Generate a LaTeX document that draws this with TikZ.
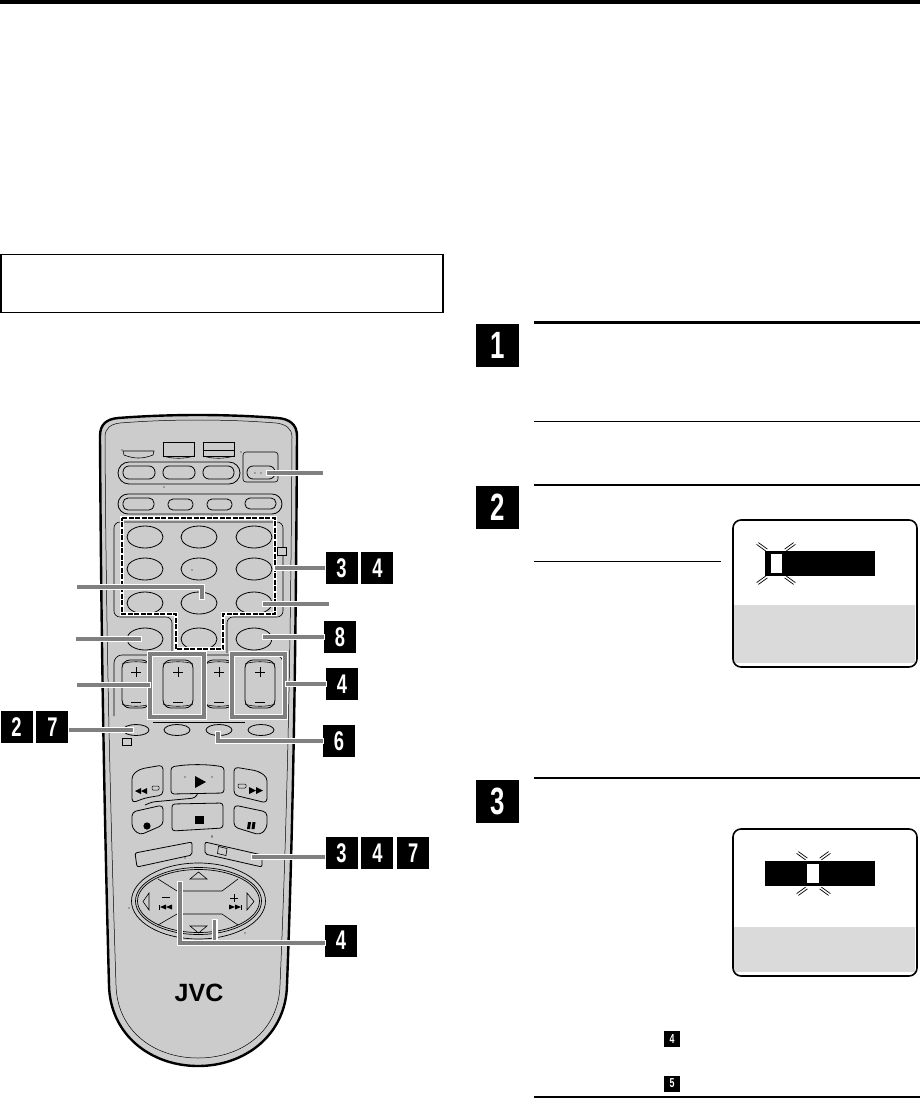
\documentclass[tikz,border=0pt]{standalone}
\usepackage{fontspec}
\setmainfont{Liberation Sans}
\usepackage{tikz}
\usetikzlibrary{calc, positioning, shapes.geometric}
\definecolor{bodygray}{HTML}{CCCCCC}
\definecolor{calloutgray}{HTML}{808080}
\definecolor{screengray}{HTML}{DADADA}
\newcommand{\numglyph}[1]{\scalebox{0.68}[1]{#1}}
\tikzset{
  badge/.style={fill=black, text=white, minimum size=32pt, inner sep=0pt, font=\fontsize{27}{27}\selectfont\bfseries},
  bigbadge/.style={fill=black, text=white, minimum size=42.5pt, inner sep=0pt, font=\fontsize{38}{38}\selectfont\bfseries},
  tinybadge/.style={fill=black, text=white, minimum size=16pt, inner sep=0pt, font=\fontsize{13}{13}\selectfont\bfseries},
  btn/.style={draw=black, line width=0.8pt},
  key/.style={ellipse, draw=black, line width=0.8pt, minimum width=36pt, minimum height=22pt, inner sep=0pt},
  smallkey/.style={ellipse, draw=black, line width=0.8pt, minimum width=26pt, minimum height=11pt, inner sep=0pt},
  thin line/.style={draw=black, line width=0.6pt},
  padring/.style={ellipse, draw=black, line width=0.7pt, inner sep=0pt},
  hrule/.style={draw=black, line width=2.4pt},
  screen/.style={draw=black, line width=1.6pt, rounded corners=8pt},
}
% one grey leader with a white edge
\newcommand{\leader}[1]{
  \draw[white, line width=6pt, shorten <=-1pt, shorten >=-1pt] #1;
  \draw[calloutgray, line width=3.6pt] #1;
}
% four flashing marks round a block
\newcommand{\sparkle}[4]{
  \foreach \sx/\sy in {-1/-1,1/-1,-1/1,1/1} {
    \draw[line width=0.7pt] ({#1+\sx*#3-0.9},{#2+\sy*#4+0.9*\sx*\sy}) -- ++({\sx*9},{\sy*6.5});
    \draw[line width=0.7pt] ({#1+\sx*#3+0.9},{#2+\sy*#4-0.9*\sx*\sy}) -- ++({\sx*9},{\sy*6.5});
  }
}
\begin{document}
\begin{tikzpicture}[x=1pt, y=-1pt]
\useasboundingbox (0,0) rectangle (920,1098);
\fill[black] (0,0) rectangle (920,4);

% note box
\draw[line width=1.2pt] (1,254.5) rectangle (443,312.5);

% remote body
\draw[fill=bodygray, line width=2.4pt] (100,436) .. controls (100,424) and (107,419) .. (118,418)
  .. controls (170,414) and (226,414) .. (278,418) .. controls (289,419) and (297,424) .. (297,436)
  .. controls (296,620) and (294,800) .. (287,985) .. controls (286,1035) and (245,1066) .. (198,1066)
  .. controls (151,1066) and (110,1035) .. (109,985) .. controls (104,800) and (101,620) .. (100,436) -- cycle;
\draw[line width=0.5pt] (105,437) .. controls (105,428) and (111,424) .. (120,423)
  .. controls (170,419) and (226,419) .. (276,423) .. controls (285,424) and (292,428) .. (292,437)
  .. controls (291,620) and (288,800) .. (280,985) .. controls (279,1030) and (243,1058) .. (198,1058)
  .. controls (153,1058) and (117,1030) .. (116,985) .. controls (110,800) and (106,620) .. (105,437) -- cycle;

% tabs on top
\draw[thin line] (123,451) -- (154,451) -- (153,455) .. controls (143,459) and (134,459) .. (124,455) -- cycle;
\draw[thin line] (163,442) rectangle (194,456);
\draw[thin line] (163,456) .. controls (173,459) and (184,459) .. (194,456);
\draw[thin line] (203,442) rectangle (234,456);
\draw[thin line] (203,450) -- (234,450);
\draw[thin line] (203,456) .. controls (213,459) and (224,459) .. (234,456);
\draw[thin line, rounded corners=3pt] (243,482) -- (243,452) -- (278,452) -- (278,482) -- cycle;

% two upper rows of buttons
\draw[btn, rounded corners=11pt] (118,462) rectangle (240,484);
\draw[btn, rounded corners=6pt] (123,466) rectangle (155,479);
\draw[btn, rounded corners=6pt] (163,466) rectangle (195,479);
\draw[btn, rounded corners=6pt] (203,466) rectangle (234,479);
\draw[btn, rounded corners=6pt] (247,466) rectangle (275,479);
\draw[btn, rounded corners=10pt] (118,494) rectangle (282,514);
\draw[btn, rounded corners=5pt] (123,498) rectangle (154,510);
\draw[btn, rounded corners=5pt] (168,499) rectangle (193,510);
\draw[btn, rounded corners=5pt] (207,499) rectangle (232,510);
\draw[btn, rounded corners=5pt] (245,498) rectangle (276,509);

% frame round the keys
\draw[thin line, rounded corners=6pt] (172,653) -- (172,617) -- (114,617) -- (114,522) -- (283,522) -- (283,617) -- (227,617) -- (227,653);
\draw[fill=bodygray, thin line] (277,547) rectangle (286,555);

% number keys
\foreach \cx/\cy/\kname in {145/537/ka, 199/537/kb, 254/537/kc,
    145/569/kd, 199/569/ke, 254/569/kf,
    145/603/kg, 199/603/kh, 254/603/ki,
    145/639/kj, 199/639/kk, 254/639/kl} {
  \node[key] (\kname) at (\cx,\cy) {};
}

% tiny dots on the case
\foreach \dx/\dy in {122/450, 241/452, 164/487, 212/516, 192/570, 255/473, 261/473,
    185/777, 212/777, 212/836, 185/858, 129/908, 245/933, 212/837} {
  \fill (\dx,\dy) circle (0.7pt);
}

% dashed outline of the keys
\draw[white, line width=4pt] (122,518) -- (275,518) -- (275,614) -- (223,614) -- (223,649) -- (176,649) -- (176,614) -- (122,614) -- cycle;
\draw[dash pattern=on 5pt off 1.5pt, line width=1.8pt] (122,518) -- (275,518) -- (275,614) -- (223,614) -- (223,649) -- (176,649) -- (176,614) -- (122,614) -- cycle;

% rockers
\draw[thin line, rounded corners=8pt] (114,716) -- (114,655) -- (283,655) -- (283,716);
\draw[thin line] (153,722) -- (245,722);
\foreach \lx/\rx in {122/150, 163/193, 205/233, 245/275} {
  \draw[btn, rounded corners=8pt] (\lx,660) rectangle (\rx,708);
  \draw[thin line] (\lx,664) .. controls ({\lx+6},661) and ({\rx-6},661) .. (\rx,664);
  \draw[thin line] (\lx,704) .. controls ({\lx+6},707) and ({\rx-6},707) .. (\rx,704);
  \draw[line width=0.7pt] ({(\lx+\rx)/2-5},672) -- ({(\lx+\rx)/2+5},672);
  \draw[line width=0.7pt] ({(\lx+\rx)/2},667) -- ({(\lx+\rx)/2},677);
  \draw[line width=0.7pt] ({(\lx+\rx)/2-5},702) -- ({(\lx+\rx)/2+5},702);
}

% lower row of keys
\foreach \cx/\kname in {136/kp, 177/kq, 219/kr, 261/ks} {
  \node[smallkey] (\kname) at (\cx,730) {};
}
\draw[fill=bodygray, thin line] (122,738) rectangle (131,745);

% transport keys
\draw[btn, rounded corners=4pt] (132,775) -- (140,769) -- (163,765) -- (163,795) -- (145,798) -- (132,803) -- cycle;
\draw[btn, rounded corners=3pt] (171,767) .. controls (188,764) and (207,764) .. (224,767) -- (224,793) -- (171,794) -- cycle;
\draw[btn, rounded corners=4pt] (234,767) -- (258,771) -- (267,777) -- (267,803) -- (234,795) -- cycle;
\draw[btn, rounded corners=3pt] (145,805) -- (152,802) -- (195,798) -- (198,793);
\draw[btn, rounded corners=4pt] (132,812) -- (163,805) -- (163,825) -- (140,835) -- (132,828) -- cycle;
\draw[btn, rounded corners=3pt] (172,804) -- (223,803) -- (223,828) -- (172,831) -- cycle;
\draw[btn, rounded corners=4pt] (234,805) -- (267,812) -- (267,828) -- (260,835) -- (234,827) -- cycle;
\fill (195,776) -- (206,782) -- (195,788) -- cycle;
\fill (195,816) rectangle (203.5,824);
\fill (147,826) circle (3.6pt);
\fill (248,822) -- (251,822) -- (250,829) -- (247,829) -- cycle;
\fill (252.5,822) -- (255.5,822) -- (254.5,829) -- (251.5,829) -- cycle;
\fill (135,791) -- (141,788) -- (141,794) -- cycle;
\fill (141,791) -- (147,788) -- (147,794) -- cycle;
\fill (249,787) -- (256,790.5) -- (249,794) -- cycle;
\fill (256,787) -- (263,790.5) -- (256,794) -- cycle;
\draw[line width=0.5pt, rounded corners=1pt] (152,786) rectangle (159,790);
\draw[line width=0.5pt, rounded corners=1pt] (238,784) rectangle (246,788);

% two bars over the pad
\draw[btn, rounded corners=2pt] (135,853) -- (192,842) -- (192,855) -- (137,867) -- cycle;
\draw[btn, rounded corners=2pt] (205,842) -- (262,855) -- (262,867) -- (205,854) -- cycle;
\draw[thin line] (218.5,846.5) -- (227,848.5) -- (226,855.5) -- (217.5,853.5) -- cycle;

% round pad
\node[padring, minimum width=134pt, minimum height=76pt] (padout) at (198.5,901) {};
\node[padring, minimum width=126pt, minimum height=67pt] (padmid) at (198.5,901) {};
\node[padring, minimum width=122pt, minimum height=63pt] (padin) at (198.5,901) {};
\draw[thin line] (158,879) -- (177,891) -- (222,891) -- (238,879);
\draw[thin line] (158,925) -- (177,914) -- (222,914) -- (238,925);
\draw[thin line] (190,879) -- (207,879) -- (198.5,872) -- cycle;
\draw[thin line] (190,926) -- (207,926) -- (198.5,933) -- cycle;
\draw[thin line] (149,893) -- (149,910) -- (143,901.5) -- cycle;
\draw[thin line] (247,893) -- (247,910) -- (254,901.5) -- cycle;
\draw[line width=0.8pt] (162,897) -- (170,897);
\draw[line width=0.8pt] (230,898) -- (238,898) (234,894) -- (234,902);
\fill (159,904.5) rectangle (160,909.5);
\fill (160,907) -- (166,904.5) -- (166,909.5) -- cycle;
\fill (166,907) -- (172,904.5) -- (172,909.5) -- cycle;
\fill (241,904.5) rectangle (242,909.5);
\fill (229,904.5) -- (235,907) -- (229,909.5) -- cycle;
\fill (235,904.5) -- (241,907) -- (235,909.5) -- cycle;

% maker name
\node[font=\fontsize{25}{25}\selectfont\bfseries] (maker) at (199,993) {JVC};

% boxes round the rockers
\foreach \lx/\rx in {150/204, 232/285} {
  \draw[white, line width=6.5pt] (\lx,654) rectangle (\rx,717);
  \draw[calloutgray, line width=3.5pt] (\lx,654) rectangle (\rx,717);
}

% badges on the left and on the right of the remote
\node[badge] (b2) at (16.5,727) {\numglyph{2}};
\node[badge, right=3.5pt of b2] (b7) {\numglyph{7}};
\node[badge] (b3a) at (341.5,568) {\numglyph{3}};
\node[badge, right=3.5pt of b3a] (b4a) {\numglyph{4}};
\node[badge] (b8) at (340,637) {\numglyph{8}};
\node[badge] (b4b) at (342,684) {\numglyph{4}};
\node[badge] (b6) at (339,741) {\numglyph{6}};
\node[badge] (b3b) at (341.5,853) {\numglyph{3}};
\node[badge, right=3.5pt of b3b] (b4c) {\numglyph{4}};
\node[badge, right=3.5pt of b4c] (b7b) {\numglyph{7}};
\node[badge] (b4d) at (341,940.5) {\numglyph{4}};

% leaders
\coordinate (c1) at (267,473); \coordinate (c1e) at (323,473);
\coordinate (c2) at (77,587); \coordinate (c2m) at (202,587); \coordinate (c2e) at (202,599);
\coordinate (c3) at (263,604); \coordinate (c3e) at (329,604);
\coordinate (c4) at (76,639); \coordinate (c4e) at (141,639);
\coordinate (c5) at (77,685); \coordinate (c5e) at (150,685);
\coordinate (c6) at (252,857);
\coordinate (c7) at (133,730);
\coordinate (c8) at (180,882); \coordinate (c8m) at (180,943);
\coordinate (c9) at (214.5,920); \coordinate (c9m) at (214.5,943);
\coordinate (c10) at (218,732); \coordinate (c10m) at (218,741);
\coordinate (c11) at (275,568);
\coordinate (c12) at (263,637);
\coordinate (c13) at (286,684);
\leader{(c1) -- (c1e)}
\leader{(c2) -- (c2m) -- (c2e)}
\leader{(c3) -- (c3e)}
\leader{(c4) -- (c4e)}
\leader{(c5) -- (c5e)}
\leader{(c11) -- (b3a.west)}
\leader{(c12) -- (b8.west)}
\leader{(c13) -- (b4b.west)}
\leader{(b7.east |- c7) -- (c7)}
\leader{(c10) -- (c10m) -- (b6.west)}
\leader{(c6) -- (c6 -| b3b.west)}
\leader{(c9) -- (c9m)}
\leader{(c8) -- (c8m) -- (c8m -| b4d.west)}

% right column
\node[bigbadge] (s1) at (497.5,345.5) {\numglyph{1}};
\node[bigbadge] (s2) at (497.5,507.5) {\numglyph{2}};
\node[bigbadge] (s3) at (497.5,801.5) {\numglyph{3}};
\draw[hrule] (534,322.5) -- (920,322.5);
\draw[thin line] (534,421) -- (920,421);
\draw[hrule] (534,485) -- (920,485);
\draw[thin line] (534,561) -- (721,561);
\draw[hrule] (534,778) -- (920,778);
\draw[hrule] (534,1097) -- (920,1097);
\node[tinybadge] (t4) at (672,1039) {\numglyph{4}};
\node[tinybadge] (t5) at (672,1083.5) {\numglyph{5}};

% first screen
\fill[screengray] (734,605) rectangle (915,663);
\draw[screen] (733,520) rectangle (917,667);
\fill (765,551) rectangle (875,576);
\fill[white] (771,554) rectangle (782,573);
\sparkle{776}{563.5}{9.5}{13.5}

% second screen
\fill[screengray] (734,927) rectangle (915,972);
\draw[screen] (733,829) rectangle (917,976);
\fill (765,861) rectangle (875,886);
\fill[white] (807,864) rectangle (819,883);
\sparkle{813.5}{873.5}{7}{14.5}
\end{tikzpicture}
\end{document}
